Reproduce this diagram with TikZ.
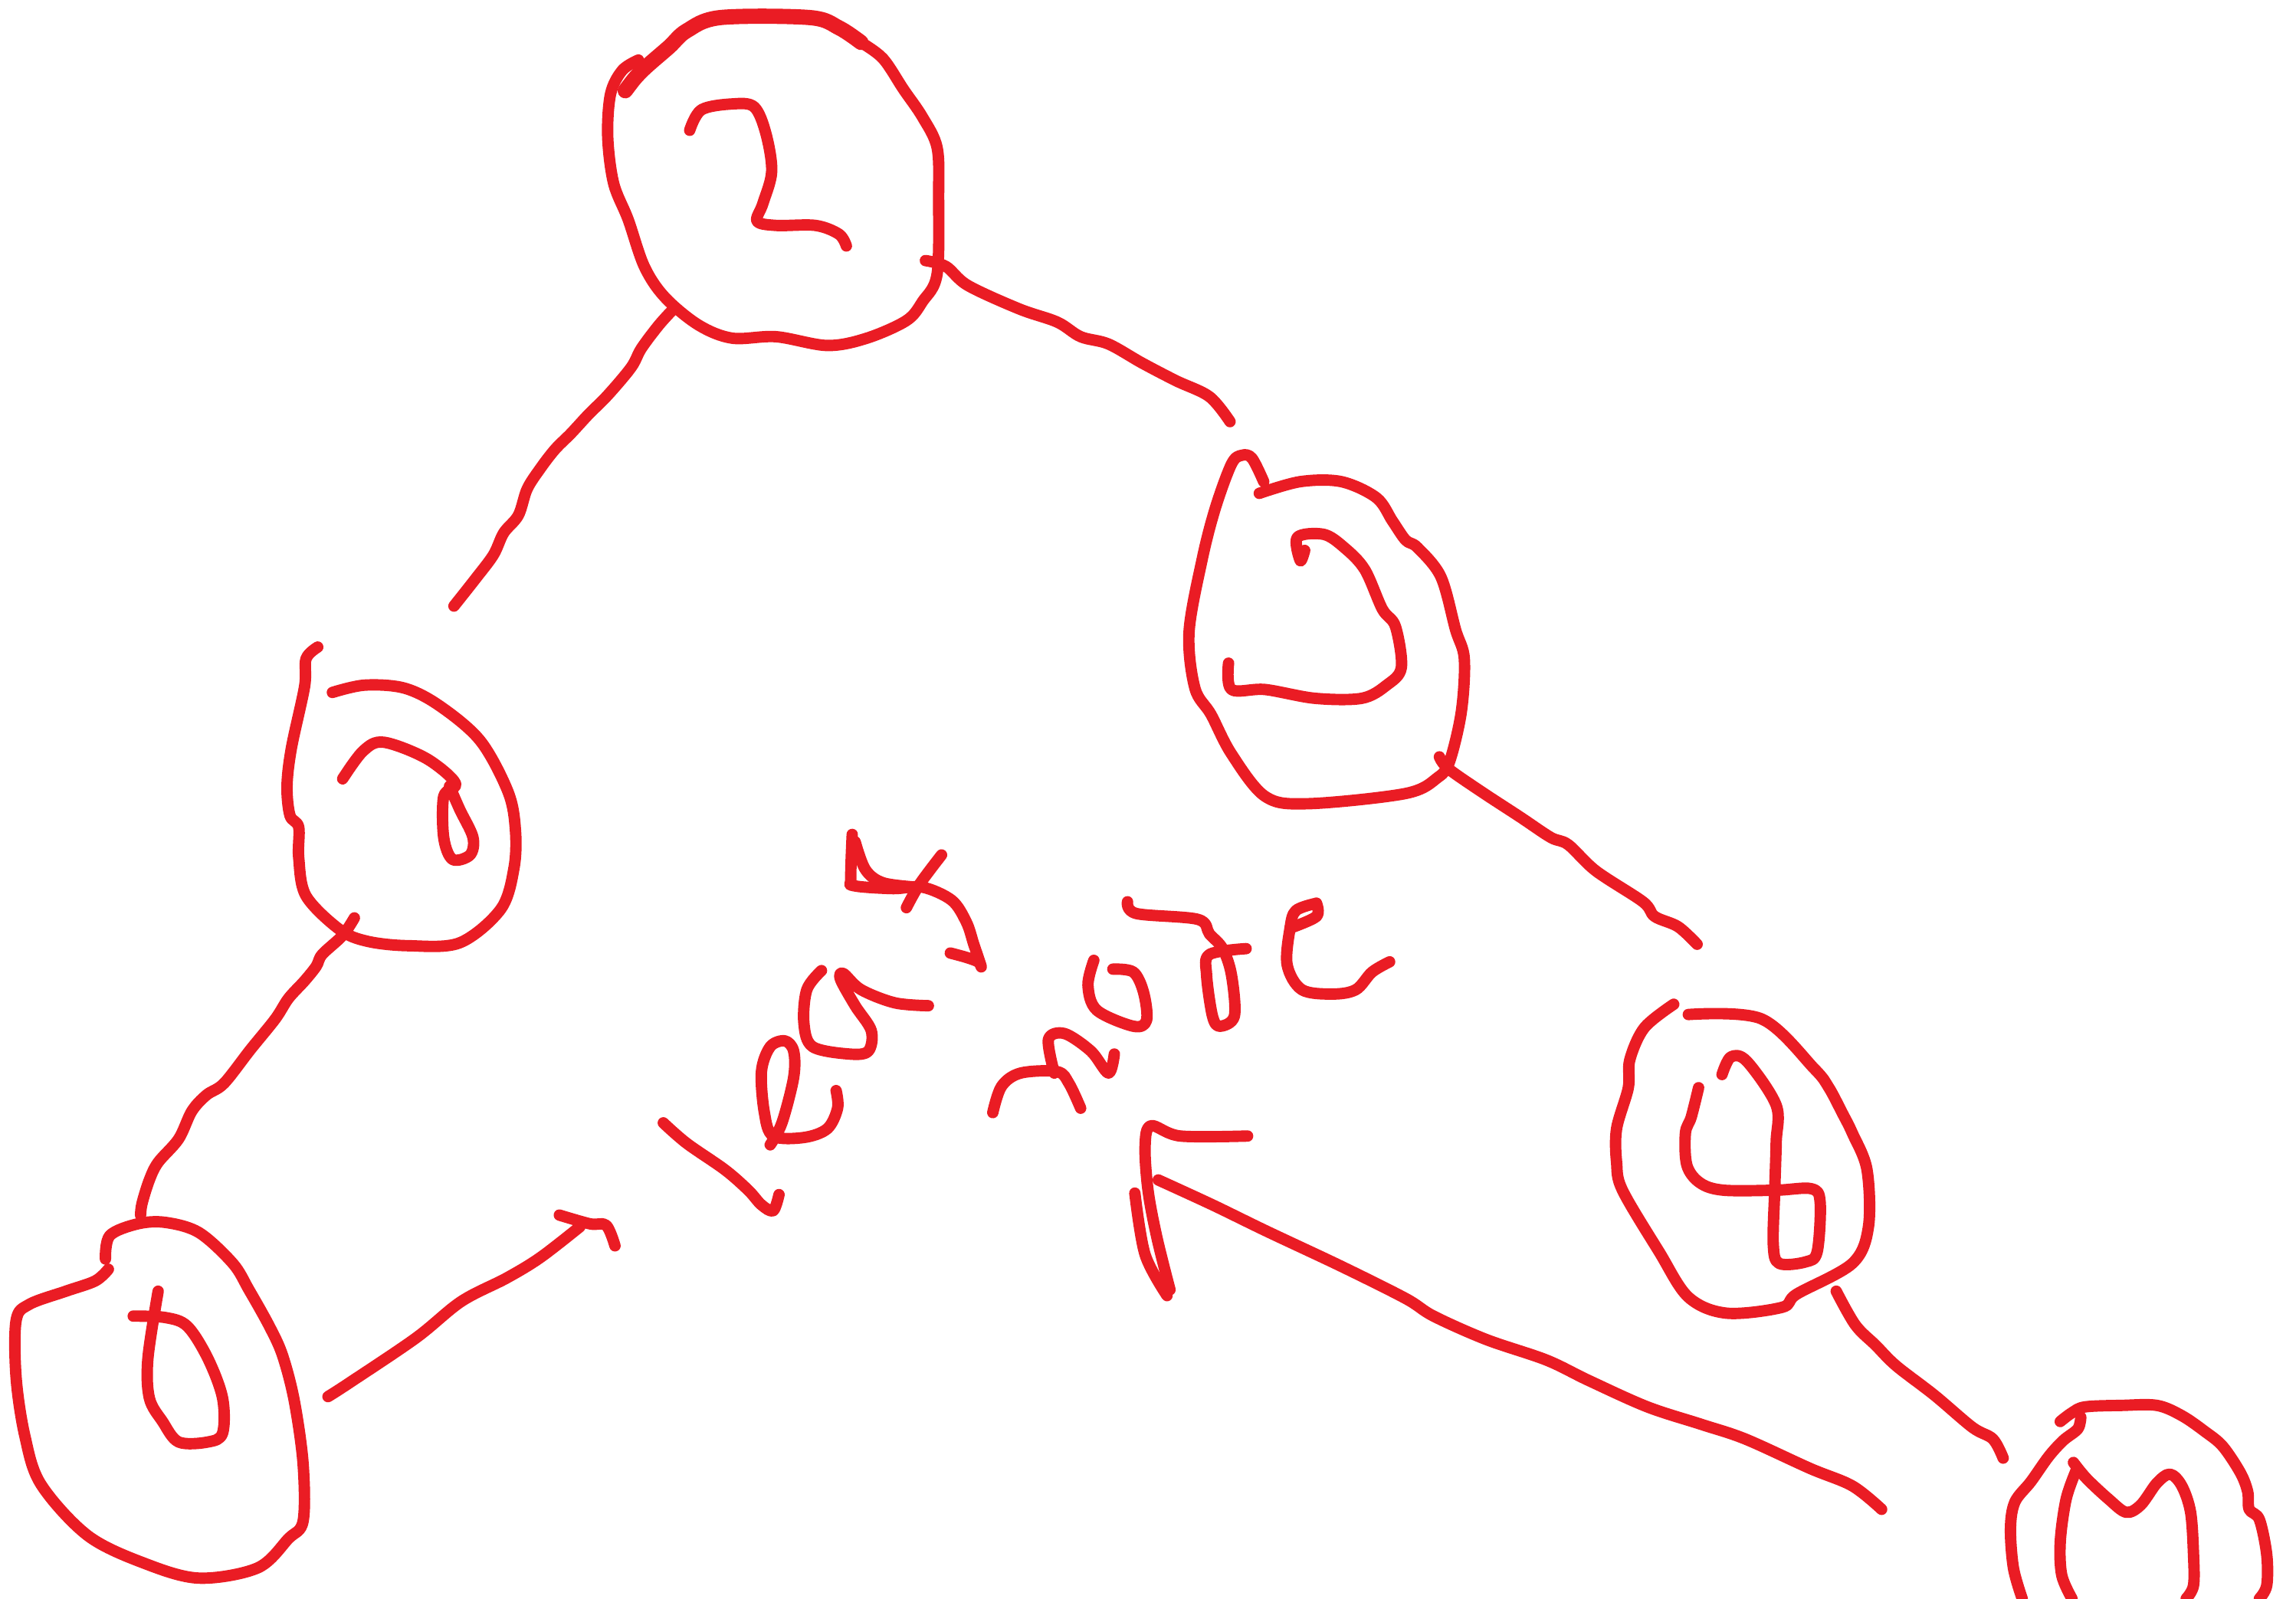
\documentclass[tikz,border=0pt]{standalone}
\definecolor{inkred}{HTML}{EA1C24}

\begin{document}
\begin{tikzpicture}[
  x=0.5pt, y=-0.5pt,
  pen/.style={draw=inkred, line width=3.9pt, line cap=round, line join=round,
              smooth, tension=0.55},
  heavy/.style={pen, line width=5.2pt}
]
\useasboundingbox (0,0) rectangle (1568,1092);
\clip (0,0) rectangle (1568,1092);

% ---------------- top circle and its digit ----------------
\draw[pen] plot coordinates {(436,41) (425,48) (417,64) (415,93) (419,125) (429,150)
  (440,182) (454,203) (477,222) (500,231) (530,230) (565,236) (592,231) (619,219)
  (630,206) (640,187) (641,134) (640,101) (630,80) (617,61) (603,40) (588,29)};
\draw[heavy] plot coordinates {(427,62) (434,53) (442,45) (457,32) (469,21) (492,12)
  (553,12) (573,19) (588,29)};
\draw[pen] plot coordinates {(471,89) (479,75) (500,71) (515,73) (523,91) (527,117)
  (521,139) (517,151) (530,154) (557,154) (573,160) (578,168)};

% ---------------- edges out of the top circle ----------------
\draw[pen] plot coordinates {(460,211) (450,222) (438,238) (431,251) (415,270) (402,283)
  (390,296) (379,307) (369,320) (360,334) (354,352) (344,364) (337,379) (325,395) (310,414)};
\draw[pen] plot coordinates {(632,178) (646,182) (661,195) (696,211) (722,220) (738,230)
  (757,235) (780,248) (803,260) (826,271) (840,288)};

% ---------------- right circle and its digit ----------------
\draw[pen] plot coordinates {(863,329) (855,313) (848,311) (841,317) (830,347) (821,382)
  (812,432) (816,470) (827,488) (841,515) (864,544) (893,549) (960,542) (982,531)
  (990,520) (998,486) (1000,450) (994,430) (984,394) (968,374) (960,369) (951,356)
  (940,340) (916,329) (888,329) (860,337)};
\draw[pen] plot coordinates {(891,376) (888,383) (886,367) (904,365) (918,374) (932,389)
  (944,416) (953,428) (957,456) (947,468) (930,477) (898,477) (864,471) (841,471) (839,453)};

% ---------------- right circle to lower circle ----------------
\draw[pen] plot coordinates {(983,517) (989,525) (1012,541) (1038,558) (1059,572) (1071,577)
  (1090,595) (1122,616) (1130,626) (1146,633) (1159,645)};

% ---------------- left circle and its digit ----------------
\draw[pen] plot coordinates {(217,442) (209,450) (208,469) (199,511) (196,537) (198,557)
  (204,565) (204,586) (209,612) (232,635) (251,643) (279,646) (314,644) (342,621)
  (351,593) (352,567) (347,541) (328,506) (300,482) (276,470) (249,468) (227,473)};
\draw[pen] plot coordinates {(234,532) (248,513) (262,507) (291,518) (311,535) (303,544)
  (303,572) (309,587) (321,584) (323,572) (314,553) (307,537)};

% ---------------- left circle to corner circle ----------------
\draw[pen] plot coordinates {(242,627) (234,639) (220,652) (216,660) (208,670) (197,682)
  (188,696) (171,717) (153,740) (141,748) (131,759) (122,778) (108,794) (102,806)
  (97,822) (96,830)};

% ---------------- corner circle and its digit ----------------
\draw[pen] plot coordinates {(72,860) (75,844) (94,836) (113,835) (136,842) (159,863)
  (170,881) (184,906) (193,926) (201,957) (207,1000) (207,1039) (197,1051) (176,1071)
  (136,1078) (99,1068) (60,1049) (28,1014) (17,981) (11,941) (11,902) (20,891)
  (45,882) (65,875) (74,867)};
\draw[pen] plot coordinates {(91,899) (113,900) (128,906) (142,928) (152,955) (152,979)
  (142,985) (122,985) (111,971) (102,955) (101,928) (108,882)};

% ---------------- corner circle to the right ----------------
\draw[pen] plot coordinates {(224,954) (238,945) (284,914) (315,889) (346,873) (369,859) (396,838)};
\draw[pen] plot coordinates {(382,830) (403,836) (414,837) (420,851)};

% ---------------- first word ----------------
\draw[pen] plot coordinates {(453,767) (469,781) (495,799) (511,813) (520,823) (528,827) (532,816)};
\draw[pen] plot coordinates {(526,782) (534,767) (542,736) (542,718) (536,711) (526,715)
  (520,732) (522,760) (528,776) (549,777) (565,771) (572,757) (571,745)};
\draw[pen] plot coordinates {(561,663) (551,676) (549,699) (555,715) (580,720) (593,718)
  (595,704) (584,687) (574,669) (576,665) (588,676) (611,685) (634,687)};
\draw[pen] plot coordinates {(582,570) (581,600) (583,605) (610,607) (630,606) (650,615)
  (660,630) (665,645) (670,660) (668,657) (660,654) (649,651)};
\draw[pen] plot coordinates {(584,575) (591,594) (603,603) (626,606)};
\draw[pen] plot coordinates {(619,620) (628,604) (643,584)};

% ---------------- second word ----------------
\draw[pen] plot coordinates {(678,760) (684,742) (697,733) (722,732) (730,740) (738,757)};
\draw[pen] plot coordinates {(720,733) (716,710) (727,706) (745,718) (757,733) (761,720)};
\draw[pen] plot coordinates {(747,656) (743,673) (749,690) (774,701) (783,697) (781,678)
  (774,664) (760,662)};
\draw[pen] plot coordinates {(770,616) (776,624) (818,628) (826,638) (835,648) (841,666)
  (843,694) (833,701) (828,694) (824,666) (826,652) (851,648)};
\draw[pen] plot coordinates {(899,617) (885,622) (881,634) (879,659) (889,676) (910,679)
  (926,676) (937,664) (949,657)};
\draw[pen] plot coordinates {(881,634) (899,626) (899,617)};

% ---------------- lower circle and its digit ----------------
\draw[pen] plot coordinates {(1143,686) (1123,702) (1113,724) (1112,743) (1104,771) (1104,794)
  (1108,813) (1133,855) (1153,886) (1179,897) (1217,893) (1227,884) (1265,863)
  (1276,838) (1275,799) (1265,774) (1258,760) (1249,743) (1239,730)
  (1203,696) (1153,693)};
\draw[pen] plot coordinates {(1176,734) (1182,722) (1193,725) (1213,755) (1213,780) (1212,813)
  (1211,850) (1215,863) (1233,862) (1241,855) (1243,821) (1237,812) (1213,813)
  (1177,813) (1161,808) (1152,796) (1151,774) (1155,763) (1160,743)};

% ---------------- edges into the lower circle and beyond ----------------
\draw[pen] plot coordinates {(852,776) (806,776) (786,769) (782,783) (784,813) (790,845) (799,881)};
\draw[pen] plot coordinates {(775,815) (782,857) (797,885)};
\draw[pen] plot coordinates {(791,806) (828,823) (865,841) (916,865) (960,887) (979,899)
  (1015,915) (1056,929) (1085,943) (1125,961) (1162,973) (1192,983) (1236,1003)
  (1265,1015) (1285,1031)};
\draw[pen] plot coordinates {(1254,882) (1267,905) (1281,919) (1295,933) (1321,953) (1347,975)
  (1361,983) (1368,996)};

% ---------------- bottom right circle and its letter ----------------
\draw[pen] plot coordinates {(1407,971) (1415,965) (1424,961) (1449,960) (1473,960) (1490,967)
  (1506,978) (1518,988) (1530,1006) (1535,1019) (1536,1031) (1543,1038) (1548,1062)
  (1548,1083) (1543,1092)};
\draw[pen] plot coordinates {(1421,968) (1419,976) (1409,984) (1399,995) (1387,1012) (1376,1026)
  (1373,1044) (1375,1071) (1381,1092)};
\draw[pen] plot coordinates {(1416,999) (1425,1010) (1440,1024) (1452,1033) (1462,1028) (1473,1013)
  (1482,1007) (1490,1015) (1496,1033) (1498,1062) (1498,1083) (1493,1092)};
\draw[pen] plot coordinates {(1418,1004) (1411,1024) (1407,1053) (1408,1076) (1415,1092)};
\end{tikzpicture}
\end{document}
